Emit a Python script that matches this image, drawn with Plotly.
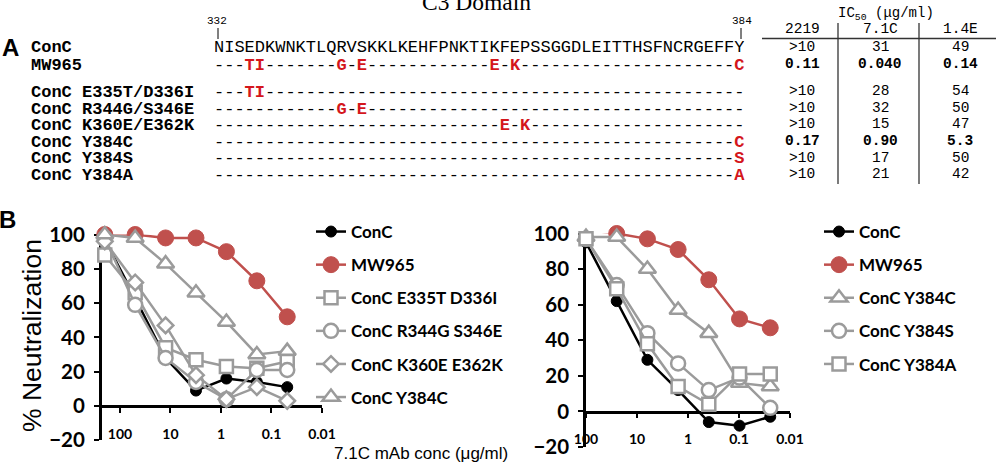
import math
import plotly.graph_objects as go

W, H = 996, 468

# ---------------- Panel A data ----------------
domain_title = "C3 Domain"
wt_seq = "NISEDKWNKTLQRVSKKLKEHFPNKTIKFEPSSGGDLEITTHSFNCRGEFFY"
seq_first, seq_last = "332", "384"
row_labels = ["ConC", "MW965", "ConC E335T/D336I", "ConC R344G/S346E",
              "ConC K360E/E362K", "ConC Y384C", "ConC Y384S", "ConC Y384A"]
row_mutations = [{}, {3: "T", 4: "I", 12: "G", 14: "E", 27: "E", 29: "K", 51: "C"},
                 {3: "T", 4: "I"}, {12: "G", 14: "E"}, {28: "E", 30: "K"},
                 {51: "C"}, {51: "S"}, {51: "A"}]
ic50_cols = ["2219", "7.1C", "1.4E"]
ic50_2219 = [">10", "0.11", ">10", ">10", ">10", "0.17", ">10", ">10"]
ic50_71c = ["31", "0.040", "28", "32", "15", "0.90", "17", "21"]
ic50_14e = ["49", "0.14", "54", "50", "47", "5.3", "50", "42"]
ic50_bold = [False, True, False, False, False, True, False, False]

# ---------------- Panel B data ----------------
conc_left = [200, 50, 12.5, 3.125, 0.781, 0.195, 0.0488]
left_names = ["ConC", "MW965", "ConC E335T D336I", "ConC R344G S346E",
              "ConC K360E E362K", "ConC Y384C"]
left_conc = [97, 63, 28, 9, 16, 14, 11]
left_mw965 = [100, 100, 98, 98, 90, 73, 52]
left_e335t = [88, 66, 34, 27, 23, 22, 26]
left_r344g = [98, 59, 28, 14, 4, 21, 21]
left_k360e = [96, 72, 47, 18, 4, 11, 3]
left_y384c = [100, 98, 83, 66, 49, 30, 32]

conc_right = [100, 25, 6.25, 1.5625, 0.391, 0.0977, 0.0244]
right_names = ["ConC", "MW965", "ConC Y384C", "ConC Y384S", "ConC Y384A"]
right_conc = [95, 62, 29, 12, -6, -8, -3]
right_mw965 = [102, 100, 97, 91, 74, 52, 47]
right_y384c = [98, 98, 80, 57, 44, 16, 14]
right_y384s = [97, 71, 44, 27, 12, 19, 2]
right_y384a = [97, 69, 38, 14, 4, 21, 21]

xtick_vals = [100, 10, 1, 0.1, 0.01]
xtick_text = ["100", "10", "1", "0.1", "0.01"]
ytick_vals = [-20, 0, 20, 40, 60, 80, 100]
y_title = "% Neutralization"
x_title = "7.1C mAb conc (μg/ml)"


def px(x):
    return x / W


def py(y):
    return 1 - y / H


RED_A = "#d4161c"
RED_B = "#c0504d"
GRAY = "#9b9b9b"
MONO = "Liberation Mono"
CAL = "Lato"

fig = go.Figure()

styles = {
    "ConC": dict(line=dict(color="black", width=2.5),
                 marker=dict(symbol="circle", size=11, color="black", line=dict(color="black", width=1))),
    "MW965": dict(line=dict(color=RED_B, width=2.5),
                  marker=dict(symbol="circle", size=16, color=RED_B, line=dict(color=RED_B, width=1))),
    "square": dict(line=dict(color=GRAY, width=2.5),
                   marker=dict(symbol="square", size=13, color="white", line=dict(color=GRAY, width=2.5))),
    "circle": dict(line=dict(color=GRAY, width=2.5),
                   marker=dict(symbol="circle", size=14, color="white", line=dict(color=GRAY, width=2.5))),
    "diamond": dict(line=dict(color=GRAY, width=2.5),
                    marker=dict(symbol="diamond", size=12, color="white", line=dict(color=GRAY, width=2.5))),
    "triangle": dict(line=dict(color=GRAY, width=2.5),
                     marker=dict(symbol="triangle-up", size=15, color="white", line=dict(color=GRAY, width=2.5))),
}

left_series = [left_conc, left_mw965, left_e335t, left_r344g, left_k360e, left_y384c]
left_styles = ["ConC", "MW965", "square", "circle", "diamond", "triangle"]
for i, (name, ys, st) in enumerate(zip(left_names, left_series, left_styles)):
    fig.add_trace(go.Scatter(x=conc_left, y=ys, name=name, mode="lines+markers",
                             xaxis="x", yaxis="y", legend="legend", legendgroup=f"L{i}",
                             cliponaxis=False, **styles[st]))

right_series = [right_conc, right_mw965, right_y384c, right_y384s, right_y384a]
right_styles = ["ConC", "MW965", "triangle", "circle", "square"]
for i, (name, ys, st) in enumerate(zip(right_names, right_series, right_styles)):
    fig.add_trace(go.Scatter(x=conc_right, y=ys, name=name, mode="lines+markers",
                             xaxis="x2", yaxis="y2", legend="legend2", legendgroup=f"R{i}",
                             cliponaxis=False, **styles[st]))

tickfont_x = dict(family=CAL, size=14, weight="bold", color="black")
tickfont_y = dict(family=CAL, size=20.5, weight="bold", color="black")
common_x = dict(type="log", tickvals=xtick_vals, ticktext=xtick_text, ticks="outside",
                ticklen=5, tickwidth=2, tickcolor="black", showline=True, linewidth=2.5,
                linecolor="black", showgrid=False, zeroline=False, tickfont=tickfont_x,
                ticklabelstandoff=9, layer="below traces", anchor="free", automargin=False)
common_y = dict(range=[-20, 100], tickvals=ytick_vals, ticks="outside", ticklen=5,
                tickwidth=2, tickcolor="black", showline=True, linewidth=2.5,
                linecolor="black", showgrid=False, zeroline=False, tickfont=tickfont_y,
                ticklabelstandoff=5, layer="below traces", automargin=False)

fig.update_layout(
    xaxis=dict(range=[math.log10(230), -2], domain=[px(101.7), px(322)], position=py(406), **common_x),
    yaxis=dict(domain=[py(440.3), py(234.5)], anchor="x", **common_y),
    xaxis2=dict(range=[2, -2], domain=[px(586), px(790)], position=py(411.5), **common_x),
    yaxis2=dict(domain=[py(447), py(233.5)], anchor="x2", **common_y),
)

legend_font = dict(family=CAL, size=17, weight="bold", color="black")
fig.update_layout(
    legend=dict(x=px(311), y=py(214), xanchor="left", yanchor="top", font=legend_font,
                bgcolor="rgba(0,0,0,0)", tracegroupgap=8, traceorder="grouped", itemwidth=30),
    legend2=dict(x=px(819), y=py(214), xanchor="left", yanchor="top", font=legend_font,
                 bgcolor="rgba(0,0,0,0)", tracegroupgap=8, traceorder="grouped", itemwidth=30),
)

ann = []
shapes = []


def text(x, y, s, size, family=MONO, xanchor="left", bold=False, color="black", textangle=0, height=None):
    d = dict(x=px(x), y=py(y), xref="paper", yref="paper", text=s, showarrow=False,
             xanchor=xanchor, yanchor="middle", textangle=textangle,
             font=dict(family=family, size=size, color=color,
                       weight="bold" if bold else "normal"))
    if height is not None:
        d["height"] = height
    ann.append(d)


# Panel A
text(476, 2, domain_title, 23.5, family="Liberation Serif", xanchor="center")
text(217, 21, seq_first, 11, xanchor="center")
text(742, 21, seq_last, 11, xanchor="center")
shapes.append(dict(type="line", xref="paper", yref="paper", x0=px(218), x1=px(218), y0=py(28), y1=py(39),
                   line=dict(color="black", width=1)))
shapes.append(dict(type="line", xref="paper", yref="paper", x0=px(741), x1=px(741), y0=py(28), y1=py(39),
                   line=dict(color="black", width=1)))
text(10, 47.5, "A", 24, family="Liberation Sans", xanchor="center", bold=True)

row_y = [48, 65.5, 92.5, 109, 125.5, 142, 158.5, 175]
for lab, muts, yy in zip(row_labels, row_mutations, row_y):
    text(29, yy, lab, 17, bold=True, height=15)
    if lab == "ConC":
        s = wt_seq
    else:
        parts = []
        for i, aa in enumerate(wt_seq):
            if i in muts:
                parts.append(f'<span style="color:{RED_A}"><b>{muts[i]}</b></span>')
            else:
                parts.append("-")
        s = "".join(parts)
    text(212, yy, s, 17, height=15)

# IC50 table
text(886, 14, "IC<sub>50</sub> (μg/ml)", 14, xanchor="center")
col_x = [802, 880, 960]
for cx, h in zip(col_x, ic50_cols):
    text(cx, 29, h, 14.5, xanchor="center", height=14)
for vals, cx in zip([ic50_2219, ic50_71c, ic50_14e], col_x):
    for v, b, yy in zip(vals, ic50_bold, row_y):
        text(cx, yy - 1, v, 14.5, xanchor="center", bold=b, height=14)
shapes.append(dict(type="line", xref="paper", yref="paper", x0=px(762), x1=px(996), y0=py(38.5), y1=py(38.5),
                   line=dict(color="#333333", width=1.3)))
for vx in [838, 919]:
    shapes.append(dict(type="line", xref="paper", yref="paper", x0=px(vx), x1=px(vx), y0=py(23), y1=py(184),
                       line=dict(color="#333333", width=1.3)))

# Panel B texts
text(8, 219, "B", 24, family="Liberation Sans", xanchor="center", bold=True)
text(32, 336, y_title, 26.5, family="Liberation Sans", xanchor="center", textangle=-90)
text(421, 453, x_title, 17, family="Liberation Sans", xanchor="center")

fig.update_layout(
    width=W, height=H, margin=dict(l=0, r=0, t=0, b=0, pad=0, autoexpand=False),
    paper_bgcolor="white", plot_bgcolor="white",
    annotations=ann, shapes=shapes, showlegend=True,
)

fig.write_html("out.html")
